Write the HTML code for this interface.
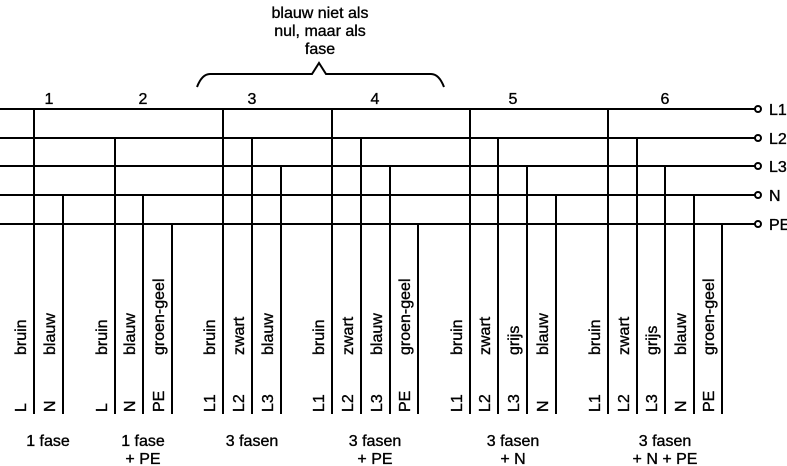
<!DOCTYPE html>
<html><head><meta charset="utf-8"><style>
html,body{margin:0;padding:0;background:#fff;}
svg{display:block;font-family:"Liberation Sans",sans-serif;font-size:16px;}
</style></head><body>
<svg width="787" height="466" viewBox="0 0 787 466" xmlns="http://www.w3.org/2000/svg">
<g stroke="#000" stroke-width="2" fill="none">
<line x1="0" y1="109" x2="755" y2="109"/>
<line x1="0" y1="138" x2="755" y2="138"/>
<line x1="0" y1="166" x2="755" y2="166"/>
<line x1="0" y1="195" x2="755" y2="195"/>
<line x1="0" y1="224" x2="755" y2="224"/>
<circle cx="758" cy="109" r="3"/>
<circle cx="758" cy="138" r="3"/>
<circle cx="758" cy="166" r="3"/>
<circle cx="758" cy="195" r="3"/>
<circle cx="758" cy="224" r="3"/>
<line x1="34" y1="109" x2="34" y2="414"/>
<line x1="63" y1="195" x2="63" y2="414"/>
<line x1="115" y1="138" x2="115" y2="414"/>
<line x1="143" y1="195" x2="143" y2="414"/>
<line x1="172" y1="224" x2="172" y2="414"/>
<line x1="223" y1="109" x2="223" y2="414"/>
<line x1="252" y1="138" x2="252" y2="414"/>
<line x1="281" y1="166" x2="281" y2="414"/>
<line x1="332" y1="109" x2="332" y2="414"/>
<line x1="361" y1="138" x2="361" y2="414"/>
<line x1="390" y1="166" x2="390" y2="414"/>
<line x1="418" y1="224" x2="418" y2="414"/>
<line x1="470" y1="109" x2="470" y2="414"/>
<line x1="498" y1="138" x2="498" y2="414"/>
<line x1="527" y1="166" x2="527" y2="414"/>
<line x1="556" y1="195" x2="556" y2="414"/>
<line x1="608" y1="109" x2="608" y2="414"/>
<line x1="637" y1="138" x2="637" y2="414"/>
<line x1="665" y1="166" x2="665" y2="414"/>
<line x1="694" y1="195" x2="694" y2="414"/>
<line x1="722" y1="224" x2="722" y2="414"/>
<path d="M197,87 Q202,74 210,74 L312,74 L319,63 L326,74 L431,74 Q439,74 444,87"/>
</g>
<g fill="#000" stroke="#000" stroke-width="0.35">
<text x="769" y="115">L1</text>
<text x="769" y="144">L2</text>
<text x="769" y="172">L3</text>
<text x="769" y="201">N</text>
<text x="769" y="230">PE</text>
<g text-anchor="middle">
<text x="49" y="104">1</text>
<text x="143" y="104">2</text>
<text x="252" y="104">3</text>
<text x="375" y="104">4</text>
<text x="513" y="104">5</text>
<text x="665" y="104">6</text>
<text x="320" y="18">blauw niet als</text>
<text x="320" y="36">nul, maar als</text>
<text x="320" y="54">fase</text>
<text x="48" y="446">1 fase</text>
<text x="143" y="446">1 fase</text>
<text x="143" y="464">+ PE</text>
<text x="252" y="446">3 fasen</text>
<text x="375" y="446">3 fasen</text>
<text x="375" y="464">+ PE</text>
<text x="513" y="446">3 fasen</text>
<text x="513" y="464">+ N</text>
<text x="665" y="446">3 fasen</text>
<text x="665" y="464">+ N + PE</text>
</g>
<g>
<text transform="translate(26,355) rotate(-90)">bruin</text>
<text transform="translate(55,355) rotate(-90)">blauw</text>
<text transform="translate(26,412) rotate(-90)">L</text>
<text transform="translate(55,412) rotate(-90)">N</text>

<text transform="translate(107,355) rotate(-90)">bruin</text>
<text transform="translate(135,355) rotate(-90)">blauw</text>
<text transform="translate(164,355) rotate(-90)">groen-geel</text>
<text transform="translate(107,412) rotate(-90)">L</text>
<text transform="translate(135,412) rotate(-90)">N</text>
<text transform="translate(164,412) rotate(-90)">PE</text>

<text transform="translate(215,355) rotate(-90)">bruin</text>
<text transform="translate(244,355) rotate(-90)">zwart</text>
<text transform="translate(273,355) rotate(-90)">blauw</text>
<text transform="translate(215,412) rotate(-90)">L1</text>
<text transform="translate(244,412) rotate(-90)">L2</text>
<text transform="translate(273,412) rotate(-90)">L3</text>

<text transform="translate(324,355) rotate(-90)">bruin</text>
<text transform="translate(353,355) rotate(-90)">zwart</text>
<text transform="translate(382,355) rotate(-90)">blauw</text>
<text transform="translate(410,355) rotate(-90)">groen-geel</text>
<text transform="translate(324,412) rotate(-90)">L1</text>
<text transform="translate(353,412) rotate(-90)">L2</text>
<text transform="translate(382,412) rotate(-90)">L3</text>
<text transform="translate(410,412) rotate(-90)">PE</text>

<text transform="translate(462,355) rotate(-90)">bruin</text>
<text transform="translate(490,355) rotate(-90)">zwart</text>
<text transform="translate(519,355) rotate(-90)">grijs</text>
<text transform="translate(548,355) rotate(-90)">blauw</text>
<text transform="translate(462,412) rotate(-90)">L1</text>
<text transform="translate(490,412) rotate(-90)">L2</text>
<text transform="translate(519,412) rotate(-90)">L3</text>
<text transform="translate(548,412) rotate(-90)">N</text>

<text transform="translate(600,355) rotate(-90)">bruin</text>
<text transform="translate(629,355) rotate(-90)">zwart</text>
<text transform="translate(657,355) rotate(-90)">grijs</text>
<text transform="translate(686,355) rotate(-90)">blauw</text>
<text transform="translate(714,355) rotate(-90)">groen-geel</text>
<text transform="translate(600,412) rotate(-90)">L1</text>
<text transform="translate(629,412) rotate(-90)">L2</text>
<text transform="translate(657,412) rotate(-90)">L3</text>
<text transform="translate(686,412) rotate(-90)">N</text>
<text transform="translate(714,412) rotate(-90)">PE</text>
</g>
</g>
</svg>
</body></html>
